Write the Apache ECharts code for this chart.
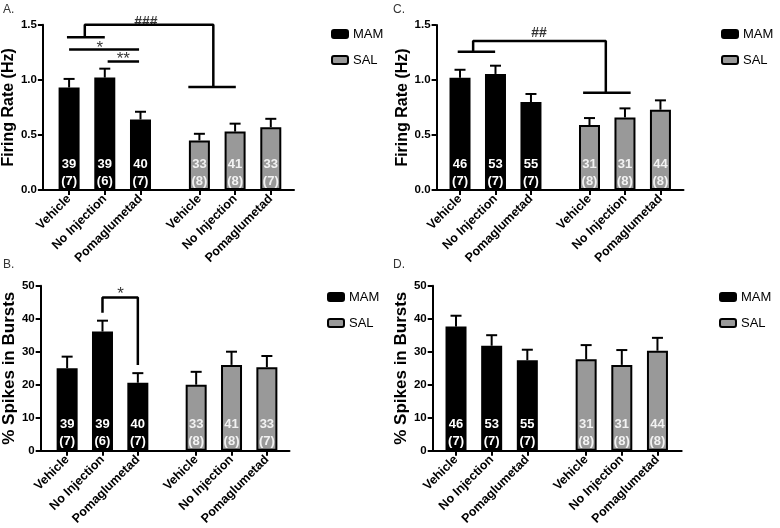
<!DOCTYPE html>
<html>
<head>
<meta charset="utf-8">
<script src="https://cdn.jsdelivr.net/npm/echarts@6/dist/echarts.min.js"></script>
<style>
html,body{margin:0;padding:0;background:#fff;}
#chart{width:780px;height:528px;}
</style>
</head>
<body>
<div id="chart"></div>
<script>
// ---------------- DATA ----------------
const groups = ['MAM', 'SAL'];
const treatments = ['Vehicle', 'No Injection', 'Pomaglumetad'];

// Panel A: firing rate (Hz)
const rateA_MAM = [0.93, 1.02, 0.64];
const rateA_MAM_sem = [0.078, 0.081, 0.070];
const rateA_SAL = [0.45, 0.53, 0.57];
const rateA_SAL_sem = [0.060, 0.072, 0.076];
// Panel B: % spikes in bursts
const burstB_MAM = [25.0, 36.1, 20.6];
const burstB_MAM_sem = [3.5, 3.3, 2.9];
const burstB_SAL = [20.0, 26.0, 25.3];
const burstB_SAL_sem = [3.9, 4.0, 3.4];
// Panel C: firing rate (Hz)
const rateC_MAM = [1.02, 1.055, 0.80];
const rateC_MAM_sem = [0.073, 0.075, 0.073];
const rateC_SAL = [0.59, 0.66, 0.73];
const rateC_SAL_sem = [0.064, 0.082, 0.085];
// Panel D: % spikes in bursts
const burstD_MAM = [37.6, 31.8, 27.4];
const burstD_MAM_sem = [3.3, 3.2, 3.2];
const burstD_SAL = [27.7, 26.0, 30.3];
const burstD_SAL_sem = [4.3, 4.5, 3.9];

// n cells (n rats)
const cellsAB_MAM = [39, 39, 40];
const ratsAB_MAM = [7, 6, 7];
const cellsAB_SAL = [33, 41, 33];
const ratsAB_SAL = [8, 8, 7];
const cellsCD_MAM = [46, 53, 55];
const ratsCD_MAM = [7, 7, 7];
const cellsCD_SAL = [31, 31, 44];
const ratsCD_SAL = [8, 8, 8];

// y tick settings
const rateTicks = {max: 1.5, interval: 0.5, decimals: 1};
const burstTicks = {max: 50, interval: 10, decimals: 0};

// significance annotations (in data units: x = group slot, y = axis value)
const bracketsA = [
  [[-0.06, 1.385], [1.0, 1.385]],
  [[0.44, 1.385], [0.44, 1.5], [4.04, 1.5], [4.04, 0.934]],
  [[3.34, 0.934], [4.67, 0.934]],
  [[0, 1.274], [1.96, 1.274]],
  [[1.08, 1.166], [1.96, 1.166]]
];
const marksA = [['###', 2.15, 1.52], ['*', 0.86, 1.29], ['**', 1.52, 1.185]];
const bracketsB = [
  [[1, 41.8], [1, 46.4], [2, 46.4], [2, 26.0]]
];
const marksB = [['*', 1.51, 47.3]];
const bracketsC = [
  [[-0.065, 1.257], [0.99, 1.257]],
  [[0.37, 1.257], [0.37, 1.355], [4.11, 1.355], [4.11, 0.885]],
  [[3.47, 0.885], [4.81, 0.885]]
];
const marksC = [['##', 2.23, 1.43]];

// ---------------- LAYOUT ----------------
const FONT = '"Liberation Sans", Arial, Helvetica, sans-serif';
const SAL_START = 3.65;
const mamPos = [0, 1, 2];
const salPos = [SAL_START, SAL_START + 1, SAL_START + 2];
const allPos = mamPos.concat(salPos);
const allLabels = treatments.concat(treatments);

const panels = [
  {letter: 'A.', lx: 3, ly: 4, grid: {left: 42, top: 24.7, width: 252, height: 165.3}, xmin: -0.734, xmax: 6.30,
   ticks: rateTicks, yName: 'Firing Rate (Hz)', nameGap: 23, nameSize: 16,
   mam: rateA_MAM, mamSem: rateA_MAM_sem, sal: rateA_SAL, salSem: rateA_SAL_sem,
   cm: cellsAB_MAM, rm: ratsAB_MAM, cs: cellsAB_SAL, rs: ratsAB_SAL,
   brackets: bracketsA, marks: marksA, legend: {left: 331, top: 27.5}},
  {letter: 'B.', lx: 3, ly: 259, grid: {left: 38.3, top: 285.7, width: 251.2, height: 165}, xmin: -0.748, xmax: 6.29,
   ticks: burstTicks, yName: '% Spikes in Bursts', nameGap: 19.5, nameSize: 17,
   mam: burstB_MAM, mamSem: burstB_MAM_sem, sal: burstB_SAL, salSem: burstB_SAL_sem,
   cm: cellsAB_MAM, rm: ratsAB_MAM, cs: cellsAB_SAL, rs: ratsAB_SAL,
   brackets: bracketsB, marks: marksB, legend: {left: 327, top: 290.5}},
  {letter: 'C.', lx: 393, ly: 4, grid: {left: 436.6, top: 25, width: 246.9, height: 165}, xmin: -0.66, xmax: 6.30,
   ticks: rateTicks, yName: 'Firing Rate (Hz)', nameGap: 23, nameSize: 16,
   mam: rateC_MAM, mamSem: rateC_MAM_sem, sal: rateC_SAL, salSem: rateC_SAL_sem,
   cm: cellsCD_MAM, rm: ratsCD_MAM, cs: cellsCD_SAL, rs: ratsCD_SAL,
   brackets: bracketsC, marks: marksC, legend: {left: 721, top: 27.5}},
  {letter: 'D.', lx: 393, ly: 259, grid: {left: 432.7, top: 285.7, width: 249, height: 165}, xmin: -0.654, xmax: 6.33,
   ticks: burstTicks, yName: '% Spikes in Bursts', nameGap: 19.5, nameSize: 17,
   mam: burstD_MAM, mamSem: burstD_MAM_sem, sal: burstD_SAL, salSem: burstD_SAL_sem,
   cm: cellsCD_MAM, rm: ratsCD_MAM, cs: cellsCD_SAL, rs: ratsCD_SAL,
   brackets: [], marks: [], legend: {left: 719, top: 290.5}}
];

const option = {
  backgroundColor: '#fff',
  animation: false,
  textStyle: {fontFamily: FONT},
  title: [], grid: [], xAxis: [], yAxis: [], legend: [], series: []
};

function labelFor(v) {
  for (let k = 0; k < allPos.length; k++) if (Math.abs(allPos[k] - v) < 1e-6) return allLabels[k];
  return '';
}

function errRender(params, api) {
  const x = api.value(0), v = api.value(1), e = api.value(2);
  const p0 = api.coord([x, v]);
  const p1 = api.coord([x, v + e]);
  const cap = 5.5;
  return {
    type: 'group',
    children: [
      {type: 'line', shape: {x1: p0[0], y1: p0[1], x2: p1[0], y2: p1[1]}, style: {stroke: '#000', lineWidth: 2}},
      {type: 'line', shape: {x1: p1[0] - cap, y1: p1[1], x2: p1[0] + cap, y2: p1[1]}, style: {stroke: '#000', lineWidth: 2}}
    ]
  };
}

panels.forEach((p, i) => {
  option.title.push({text: p.letter, left: p.lx, top: p.ly, padding: 0,
    textStyle: {fontFamily: FONT, fontSize: 12, fontWeight: 'normal', color: '#333'}});
  option.grid.push(Object.assign({containLabel: false}, p.grid));
  option.xAxis.push({
    type: 'value', gridIndex: i, min: p.xmin, max: p.xmax,
    splitLine: {show: false},
    axisLine: {show: true, onZero: false, lineStyle: {color: '#000', width: 2}},
    axisTick: {show: true, customValues: allPos, length: 5, lineStyle: {color: '#000', width: 2}},
    axisLabel: {show: true, customValues: allPos, formatter: labelFor, rotate: 45, margin: 7,
      fontFamily: FONT, fontSize: 12.5, fontWeight: 'bold', color: '#000'}
  });
  option.yAxis.push({
    type: 'value', gridIndex: i, min: 0, max: p.ticks.max, interval: p.ticks.interval,
    name: p.yName, nameLocation: 'middle', nameGap: p.nameGap, nameRotate: 90,
    nameTextStyle: {fontFamily: FONT, fontSize: p.nameSize, fontWeight: 'bold', color: '#000'},
    splitLine: {show: false},
    axisLine: {show: true, onZero: false, lineStyle: {color: '#000', width: 2}},
    axisTick: {show: true, length: 5, lineStyle: {color: '#000', width: 2}},
    axisLabel: {margin: 6, fontFamily: FONT, fontSize: 11.5, fontWeight: 'bold', color: '#000',
      formatter: v => v.toFixed(p.ticks.decimals)}
  });
  option.legend.push({
    data: groups, orient: 'vertical', left: p.legend.left, top: p.legend.top,
    itemWidth: 16, itemHeight: 8, itemGap: 13, padding: 0, selectedMode: false,
    textStyle: {fontFamily: FONT, fontSize: 13, color: '#000'}
  });

  const barLabel = (cells, rats, color) => ({
    show: true, position: 'insideBottom', distance: 0.5,
    formatter: q => cells[q.dataIndex] + '\n(' + rats[q.dataIndex] + ')',
    color: color, fontFamily: FONT, fontSize: 13, fontWeight: 'bold', lineHeight: 17
  });

  option.series.push({
    name: groups[0], type: 'bar', xAxisIndex: i, yAxisIndex: i, barWidth: 21, barGap: '-100%',
    data: p.mam.map((v, k) => [mamPos[k], v]),
    itemStyle: {color: '#000', borderColor: '#000', borderWidth: 2},
    label: barLabel(p.cm, p.rm, '#fff'), z: 3
  });
  option.series.push({
    name: groups[1], type: 'bar', xAxisIndex: i, yAxisIndex: i, barWidth: 21, barGap: '-100%',
    data: p.sal.map((v, k) => [salPos[k], v]),
    itemStyle: {color: '#999999', borderColor: '#000', borderWidth: 2},
    label: barLabel(p.cs, p.rs, '#f2f2f2'), z: 3
  });
  option.series.push({
    type: 'custom', xAxisIndex: i, yAxisIndex: i, renderItem: errRender, silent: true, z: 2,
    encode: {x: 0, y: 1},
    data: p.mam.map((v, k) => [mamPos[k], v, p.mamSem[k]]).concat(p.sal.map((v, k) => [salPos[k], v, p.salSem[k]]))
  });
  p.brackets.forEach(b => {
    option.series.push({
      type: 'line', xAxisIndex: i, yAxisIndex: i, data: b, symbol: 'none', silent: true, clip: false,
      lineStyle: {color: '#000', width: 2.5}, z: 5, animation: false
    });
  });
  p.marks.forEach(m => {
    const star = m[0].charAt(0) === '*';
    option.series.push({
      type: 'scatter', xAxisIndex: i, yAxisIndex: i, data: [[m[1], m[2]]], symbolSize: 1, silent: true, clip: false,
      itemStyle: {color: 'rgba(0,0,0,0)'},
      label: {show: true, position: 'inside', formatter: m[0], color: '#000', fontFamily: FONT,
        fontSize: star ? 17 : 14, fontWeight: star ? 'normal' : 'bold'},
      z: 6
    });
  });
});

const chart = echarts.init(document.getElementById('chart'), null, {renderer: 'canvas'});
chart.setOption(option);
</script>
</body>
</html>
